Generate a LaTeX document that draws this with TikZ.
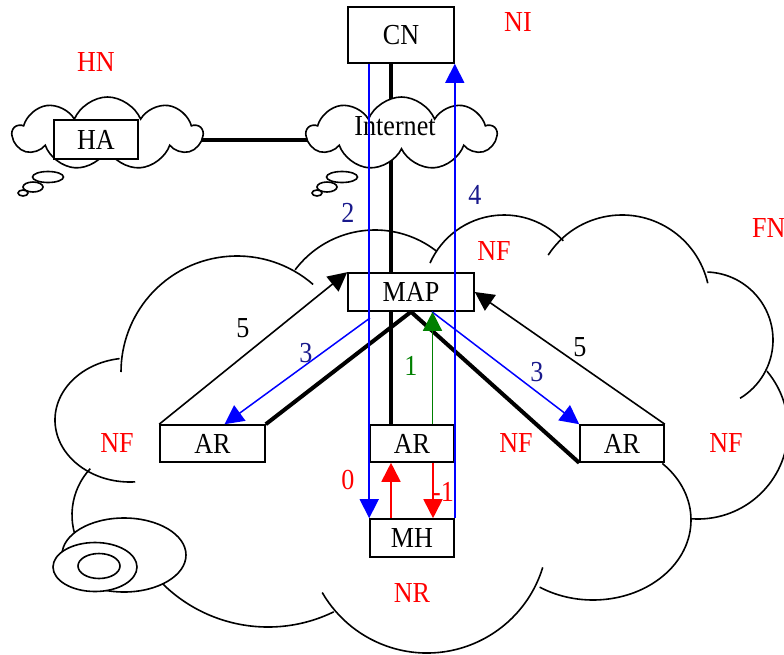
\documentclass[tikz,border=0pt]{standalone}
\usepackage{fontspec}
\setmainfont{Liberation Serif}[FakeStretch=0.9]
\usepackage{tikz}
\usetikzlibrary{arrows.meta,shapes.symbols,backgrounds}
\definecolor{link blue}{rgb}{0,0,1}
\definecolor{msg navy}{rgb}{0.1,0.1,0.55}
\definecolor{bind green}{rgb}{0,0.5,0}

\begin{document}
\begin{tikzpicture}[x=1pt, y=-1pt, >={Triangle[length=19pt,width=19pt]},
		every node/.style={font=\fontsize{29}{34}\selectfont},
		box/.style={draw, fill=white, line width=1.6pt, inner sep=0pt},
		puffy/.style={cloud, cloud puffs=9, cloud puff arc=135, cloud ignores aspect,
			draw, fill=white, line width=1.6pt, minimum width=189pt, minimum height=73pt, inner sep=0pt},
		outline/.style={line width=1.6pt},
		spine/.style={line width=4pt},
		netname/.style={text=red},
		msgnum/.style={text=msg navy}]
			\useasboundingbox (0,0) rectangle (784,654);
			% foreign network cloud
			\draw[outline] (237,372) ++(-49:116) arc[start angle=-49, end angle=-180, radius=116];
			\draw[outline] (375,330) ++(-143:100) arc[start angle=-143, end angle=-52, radius=100];
			\draw[outline] (504,296) ++(-156:81) arc[start angle=-156, end angle=-43, radius=81];
			\draw[outline] (622,303) ++(-147:88) arc[start angle=-147, end angle=-13, radius=88];
			\draw[outline] (705,340) ++(-88:68) arc[start angle=-88, end angle=59, radius=68];
			\draw[outline] (698,429) ++(-40:90) arc[start angle=-40, end angle=94, radius=90];
			\draw[outline] (593,520) ++(-45:98 and 80) arc[start angle=-45, end angle=123, x radius=98, y radius=80];
			\draw[outline] (427,532) ++(17:121) arc[start angle=17, end angle=150, radius=121];
			\draw[outline] (268,477) ++(64:150) arc[start angle=64, end angle=140, radius=150];
			\draw[outline] (140,515) ++(223:68) arc[start angle=223, end angle=150, radius=68];
			\draw[outline] (130,420) ++(262:75 and 62) arc[start angle=262, end angle=86, x radius=75, y radius=62];
			% bubbles of the big cloud
			\draw[outline, fill=white] (124,555) ellipse[x radius=62, y radius=37];
			\draw[outline, fill=white] (95,567) ellipse[x radius=42, y radius=24.5];
			\draw[outline, fill=white] (99,566) ellipse[x radius=21, y radius=12.5];
			% home network and internet
			\node[puffy] (hnet) at (107.5,133.5) {};
			\node[puffy] (inet) at (401.5,133.5) {};
			\node (inetname) at (395,126) {Internet};
			\draw[outline, fill=white] ([shift={(-59.5,43.5)}]hnet.center) ellipse[x radius=15.5, y radius=5.5];
			\draw[outline, fill=white] ([shift={(-74.5,53.5)}]hnet.center) ellipse[x radius=10, y radius=5];
			\draw[outline, fill=white] ([shift={(-84.5,59.5)}]hnet.center) ellipse[x radius=5, y radius=3];
			\draw[outline, fill=white] ([shift={(-59.5,43.5)}]inet.center) ellipse[x radius=15.5, y radius=5.5];
			\draw[outline, fill=white] ([shift={(-74.5,53.5)}]inet.center) ellipse[x radius=10, y radius=5];
			\draw[outline, fill=white] ([shift={(-84.5,59.5)}]inet.center) ellipse[x radius=5, y radius=3];
			% boxes
			\node[box, minimum width=106pt, minimum height=56pt] (CN) at (401,35) {CN};
			\node[box, minimum width=84pt, minimum height=39pt] (HA) at (96,139.5) {HA};
			\node[box, minimum width=126pt, minimum height=38pt] (MAP) at (411,292) {MAP};
			\node[box, minimum width=105pt, minimum height=37pt] (ARl) at (212.5,443.5) {AR};
			\node[box, minimum width=84pt, minimum height=37pt] (ARc) at (412,443.5) {AR};
			\node[box, minimum width=84pt, minimum height=37pt] (ARr) at (622,443.5) {AR};
			\node[box, minimum width=84pt, minimum height=38pt] (MH) at (412,538) {MH};
			% wires
			\begin{scope}[on background layer]
				\draw[spine] ([xshift=-10pt]CN.south) -- ([xshift=-20pt]MAP.north);
				\draw[spine] ([xshift=-20pt]MAP.south) -- ([xshift=-21pt]ARc.north);
				\draw[spine] (MAP.south) -- (ARl.north east);
				\draw[spine] (MAP.south) -- (ARr.south west);
				\draw[spine] ([yshift=-6.5pt]hnet.center) -- ([yshift=-6.5pt]inet.center);
			\end{scope}
			% signalling
			\draw[->, line width=1.6pt] (ARl.north west) -- (MAP.north west);
			\draw[->, line width=1.6pt] (ARr.north east) -- (MAP.east);
			\coordinate (split) at (370,318);
			\draw[->, link blue, line width=1.5pt] ([xshift=22pt]CN.south west) -- (MH.north west);
			\draw[->, link blue, line width=1.5pt] (MH.north east) -- (CN.south east);
			\draw[->, link blue, line width=1.5pt] (split) -- ([xshift=12pt]ARl.north);
			\draw[->, link blue, line width=1.5pt] ([xshift=21pt]MAP.south) -- (ARr.north west);
			\draw[->, bind green, line width=1.4pt] ([xshift=20.5pt]ARc.north) -- ([xshift=20.5pt]ARc.north |- MAP.south);
			\draw[->, red, line width=1.8pt] ([xshift=-21pt]MH.north) -- ([xshift=-21pt]MH.north |- ARc.south);
			\draw[->, red, line width=1.8pt] ([xshift=21pt]ARc.south) -- ([xshift=21pt]ARc.south |- MH.north);
			% numbers
			\node (five left) at (243,328) {5};
			\node (five right) at (580,347) {5};
			\node[msgnum] (two) at (348,213) {2};
			\node[msgnum] (four) at (475,195) {4};
			\node[msgnum] (three left) at (306,353) {3};
			\node[msgnum] (three right) at (537,372) {3};
			\node[text=bind green] (one) at (411,366) {1};
			\node[text=red] (zero) at (348,480) {0};
			\node[text=red] (minus one) at (443,492) {-1};
			% network names
			\node[netname] (HN) at (96,62) {HN};
			\node[netname] (NI) at (518,22) {NI};
			\node[netname, anchor=west, inner sep=0pt] (FN) at (752,228) {FN};
			\node[netname] (NF top) at (494,251) {NF};
			\node[netname] (NF left) at (117,443) {NF};
			\node[netname] (NF mid) at (516,443) {NF};
			\node[netname] (NF right) at (726,443) {NF};
			\node[netname] (NR) at (412,593) {NR};
		\end{tikzpicture}
\end{document}
